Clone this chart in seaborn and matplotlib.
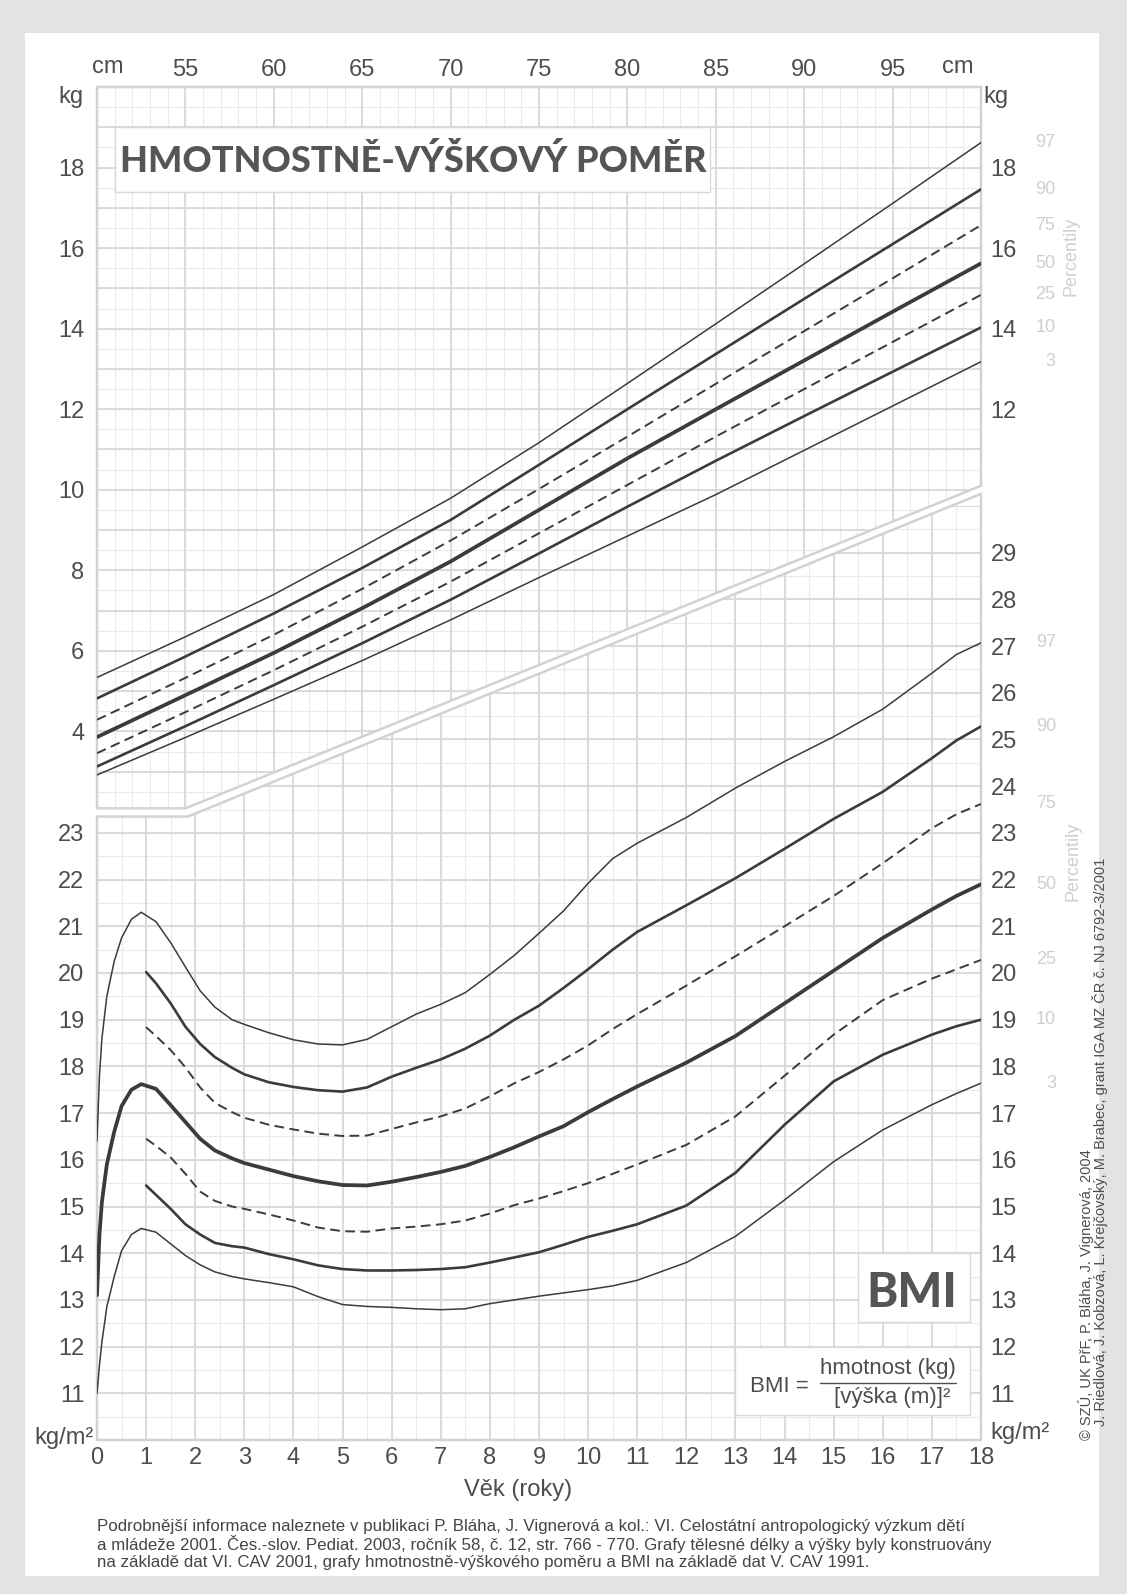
import numpy as np
import pandas as pd
import matplotlib
matplotlib.use("Agg")
import matplotlib.pyplot as plt
import matplotlib.transforms as mtransforms
from matplotlib.patches import Polygon, Rectangle
import seaborn as sns

sns.set_style("white")
plt.rcParams['font.family'] = ['Liberation Sans', 'DejaVu Sans']

# --- hmotnostne-vyskovy pomer (delka cm -> kg) ---
vyska_cm = [50, 55, 60, 65, 70, 75, 80, 85, 90, 95, 100]
hm_p97 = [5.34, 6.35, 7.40, 8.58, 9.79, 11.17, 12.64, 14.12, 15.61, 17.11, 18.62]
hm_p90 = [4.82, 5.86, 6.93, 8.06, 9.25, 10.62, 12.00, 13.37, 14.74, 16.10, 17.46]
hm_p75 = [4.29, 5.33, 6.40, 7.54, 8.74, 10.02, 11.32, 12.63, 13.94, 15.25, 16.57]
hm_p50 = [3.86, 4.90, 5.95, 7.06, 8.22, 9.50, 10.78, 12.00, 13.21, 14.42, 15.62]
hm_p25 = [3.46, 4.48, 5.52, 6.60, 7.72, 8.92, 10.12, 11.32, 12.50, 13.67, 14.84]
hm_p10 = [3.13, 4.13, 5.15, 6.19, 7.27, 8.42, 9.58, 10.72, 11.83, 12.93, 14.03]
hm_p3 = [2.92, 3.85, 4.80, 5.76, 6.77, 7.82, 8.85, 9.88, 10.98, 12.08, 13.18]

# --- BMI podle veku ---
vek_a = [0, 0.05, 0.1, 0.2, 0.35, 0.5, 0.7, 0.9, 1.2, 1.5, 1.8, 2.1, 2.4, 2.75, 3, 3.5,
         4, 4.5, 5, 5.5, 6, 6.5, 7, 7.5, 8, 8.5, 9, 9.5, 10, 10.5, 11, 12, 13, 14, 15,
         16, 17, 17.5, 18]
bmi_p97 = [16.4, 17.8, 18.6, 19.5, 20.25, 20.75, 21.15, 21.3, 21.1, 20.65, 20.13, 19.62,
           19.27, 19.0, 18.9, 18.72, 18.57, 18.48, 18.46, 18.58, 18.85, 19.12, 19.33, 19.58,
           19.97, 20.38, 20.85, 21.33, 21.92, 22.45, 22.78, 23.33, 23.96, 24.53, 25.06, 25.65,
           26.42, 26.82, 27.07]
bmi_p50 = [13.1, 14.4, 15.1, 15.9, 16.6, 17.15, 17.5, 17.62, 17.52, 17.17, 16.81, 16.45,
           16.2, 16.03, 15.93, 15.79, 15.65, 15.54, 15.46, 15.45, 15.53, 15.63, 15.74, 15.87,
           16.06, 16.27, 16.5, 16.72, 17.02, 17.3, 17.57, 18.08, 18.65, 19.35, 20.05, 20.75,
           21.36, 21.65, 21.9]
bmi_p3 = [11.0, 11.6, 12.1, 12.85, 13.5, 14.05, 14.4, 14.53, 14.45, 14.2, 13.95, 13.75,
          13.6, 13.5, 13.45, 13.37, 13.28, 13.07, 12.9, 12.86, 12.84, 12.81, 12.79, 12.81,
          12.92, 13.0, 13.08, 13.15, 13.22, 13.3, 13.42, 13.8, 14.36, 15.14, 15.96, 16.64,
          17.18, 17.42, 17.64]

vek_b = [1.0, 1.2, 1.5, 1.8, 2.1, 2.4, 2.75, 3, 3.5, 4, 4.5, 5, 5.5, 6, 6.5, 7, 7.5, 8,
         8.5, 9, 9.5, 10, 10.5, 11, 12, 13, 14, 15, 16, 17, 17.5, 18]
bmi_p90 = [20.02, 19.78, 19.35, 18.85, 18.48, 18.2, 17.97, 17.83, 17.66, 17.56, 17.49, 17.46,
           17.55, 17.78, 17.97, 18.15, 18.38, 18.66, 19.0, 19.3, 19.68, 20.08, 20.5, 20.88,
           21.45, 22.03, 22.66, 23.3, 23.88, 24.6, 24.98, 25.28]
bmi_p75 = [18.84, 18.65, 18.35, 17.98, 17.55, 17.22, 17.02, 16.9, 16.75, 16.65, 16.56, 16.51,
           16.52, 16.66, 16.8, 16.93, 17.1, 17.36, 17.64, 17.88, 18.15, 18.45, 18.8, 19.12,
           19.73, 20.36, 21.0, 21.65, 22.35, 23.1, 23.4, 23.62]
bmi_p25 = [16.45, 16.3, 16.05, 15.7, 15.32, 15.12, 15.0, 14.95, 14.83, 14.7, 14.55, 14.47,
           14.46, 14.53, 14.57, 14.62, 14.7, 14.85, 15.03, 15.17, 15.33, 15.5, 15.7, 15.9,
           16.32, 16.93, 17.8, 18.68, 19.42, 19.88, 20.08, 20.28]
bmi_p10 = [15.45, 15.25, 14.95, 14.62, 14.4, 14.22, 14.15, 14.12, 13.98, 13.87, 13.74, 13.66,
           13.63, 13.63, 13.64, 13.66, 13.7, 13.8, 13.91, 14.02, 14.18, 14.35, 14.48, 14.62,
           15.02, 15.72, 16.75, 17.68, 18.25, 18.68, 18.86, 19.0]

percentily = ['97', '90', '75', '50', '25', '10', '3']

cm_ticks = [55, 60, 65, 70, 75, 80, 85, 90, 95]
kg_left = [4, 6, 8, 10, 12, 14, 16, 18]
kg_right = [12, 14, 16, 18]
bmi_left = list(range(11, 24))
bmi_right = list(range(11, 30))
vek_ticks = list(range(0, 19))

# --- styl ---
W, H = 1127, 1594
L, R = 97, 981
INK = '#3b3b3b'
TXT = '#4d4d4d'
MAJ = '#d9d9d9'
MIN = '#eaeaea'
EDGE = '#d2d2d2'
PCT = '#cfcfcf'
FS = 17
HEAVY = ['Lato', 'Roboto', 'DejaVu Sans']

styly = {
    '97': dict(lw=1.1, ls='-'),
    '90': dict(lw=1.9, ls='-'),
    '75': dict(lw=1.4, ls=(0, (5, 2.8))),
    '50': dict(lw=2.7, ls='-'),
    '25': dict(lw=1.4, ls=(0, (5, 2.8))),
    '10': dict(lw=1.9, ls='-'),
    '3': dict(lw=1.1, ls='-'),
}

fig = plt.figure(figsize=(W / 100, H / 100), dpi=100, facecolor='#e3e3e3')
fig.add_artist(Rectangle((25 / W, 1 - 1576 / H), (1099 - 25) / W, (1576 - 33) / H,
                         transform=fig.transFigure, facecolor='white', edgecolor='none',
                         zorder=-5))

ax_top = fig.add_axes([L / W, 1 - 812 / H, (R - L) / W, (812 - 87) / H])
ax_bmi = fig.add_axes([L / W, 1 - 1440 / H, (R - L) / W, (1440 - 506) / H])
for ax in (ax_top, ax_bmi):
    ax.set_facecolor('none')
    for s in ax.spines.values():
        s.set_visible(False)

ax_top.set_xlim(50, 100)
ax_top.set_ylim(2, 20)
ax_bmi.set_xlim(0, 18)
ax_bmi.set_ylim(10, 30)

# hranice obou grafu (schodek + diagonala)
top_outline = [(50, 20), (100, 20), (100, 10.1), (55, 2.09), (50, 2.09)]
bmi_outline = [(0, 10), (18, 10), (18, 30.26), (1.85, 23.35), (0, 23.35)]


def mrizka(ax, xmin, xmaj, ymin, ymaj, outline):
    clip = Polygon(outline, closed=True, transform=ax.transData)
    x0, x1 = ax.get_xlim()
    y0, y1 = ax.get_ylim()
    art = [
        ax.vlines(xmin, y0, y1, colors=MIN, lw=0.8, zorder=1),
        ax.hlines(ymin, x0, x1, colors=MIN, lw=0.8, zorder=1),
        ax.vlines(xmaj, y0, y1, colors=MAJ, lw=1.3, zorder=1.1),
        ax.hlines(ymaj, x0, x1, colors=MAJ, lw=1.3, zorder=1.1),
    ]
    for a in art:
        a.set_clip_path(clip)
    ax.add_patch(Polygon(outline, closed=True, fill=False, edgecolor=EDGE, lw=1.8,
                         zorder=1.2, clip_on=False))


mrizka(ax_top, np.arange(50, 100.1, 1), np.arange(50, 100.1, 5),
       np.arange(2, 20.01, 0.5), np.arange(2, 20.01, 1), top_outline)
mrizka(ax_bmi, np.arange(0, 18.01, 0.5), np.arange(0, 18.01, 1),
       np.arange(10, 30.3, 0.5), np.arange(10, 30.3, 1), bmi_outline)

# krivky hmotnost / delka
hm_data = dict(zip(percentily, [hm_p97, hm_p90, hm_p75, hm_p50, hm_p25, hm_p10, hm_p3]))
for p, vals in hm_data.items():
    df = pd.DataFrame({'cm': vyska_cm, 'kg': vals})
    sns.lineplot(data=df, x='cm', y='kg', ax=ax_top, color=INK, lw=styly[p]['lw'],
                 linestyle=styly[p]['ls'], sort=False, zorder=3)
    ax_top.text(104.2, vals[-1], p, ha='right', va='center', fontsize=13, color=PCT,
                clip_on=False)

# krivky BMI
bmi_data = {'97': (vek_a, bmi_p97), '90': (vek_b, bmi_p90), '75': (vek_b, bmi_p75),
            '50': (vek_a, bmi_p50), '25': (vek_b, bmi_p25), '10': (vek_b, bmi_p10),
            '3': (vek_a, bmi_p3)}
for p, (ages, vals) in bmi_data.items():
    df = pd.DataFrame({'vek': ages, 'bmi': vals})
    sns.lineplot(data=df, x='vek', y='bmi', ax=ax_bmi, color=INK, lw=styly[p]['lw'],
                 linestyle=styly[p]['ls'], sort=False, zorder=3)
    ax_bmi.text(19.53, vals[-1], p, ha='right', va='center', fontsize=13, color=PCT,
                clip_on=False)

ax_top.text(105.1, 15.8, 'Percentily', rotation=90, ha='center', va='center',
            fontsize=13, color=PCT, clip_on=False)
ax_bmi.text(19.88, 22.4, 'Percentily', rotation=90, ha='center', va='center',
            fontsize=13, color=PCT, clip_on=False)

# osy a popisky
for ax in (ax_top, ax_bmi):
    ax.set_xlabel('')
    ax.set_ylabel('')

ax_top.xaxis.tick_top()
ax_top.set_xticks(cm_ticks)
ax_top.set_xticklabels([str(v) for v in cm_ticks])
ax_top.set_yticks(kg_left)
ax_top.set_yticklabels([str(v) for v in kg_left])
ax_top.tick_params(axis='both', length=0, labelsize=FS, labelcolor=TXT)
ax_top.tick_params(axis='x', pad=4)
ax_top.tick_params(axis='y', pad=9)
sec_top = ax_top.secondary_yaxis('right')
sec_top.set_yticks(kg_right)
sec_top.set_yticklabels([str(v) for v in kg_right])
sec_top.tick_params(length=0, labelsize=FS, labelcolor=TXT, pad=7)
sec_top.spines['right'].set_visible(False)

ax_bmi.set_xticks(vek_ticks)
ax_bmi.set_xticklabels([str(v) for v in vek_ticks])
ax_bmi.set_yticks(bmi_left)
ax_bmi.set_yticklabels([str(v) for v in bmi_left])
ax_bmi.tick_params(axis='both', length=0, labelsize=FS, labelcolor=TXT)
ax_bmi.tick_params(axis='x', pad=5)
ax_bmi.tick_params(axis='y', pad=9)
sec_bmi = ax_bmi.secondary_yaxis('right')
sec_bmi.set_yticks(bmi_right)
sec_bmi.set_yticklabels([str(v) for v in bmi_right])
sec_bmi.tick_params(length=0, labelsize=FS, labelcolor=TXT, pad=7)
sec_bmi.spines['right'].set_visible(False)

# jednotky
tr_top_x = mtransforms.blended_transform_factory(ax_top.transData, ax_top.transAxes)
tr_top_y = mtransforms.blended_transform_factory(ax_top.transAxes, ax_top.transData)
tr_bmi_x = mtransforms.blended_transform_factory(ax_bmi.transData, ax_bmi.transAxes)
tr_bmi_y = mtransforms.blended_transform_factory(ax_bmi.transAxes, ax_bmi.transData)
ax_top.text(50.6, 1.012, 'cm', transform=tr_top_x, ha='center', va='bottom', fontsize=FS,
            color=TXT)
ax_top.text(98.7, 1.012, 'cm', transform=tr_top_x, ha='center', va='bottom', fontsize=FS,
            color=TXT)
ax_top.text(-0.015, 19.75, 'kg', transform=tr_top_y, ha='right', va='center', fontsize=FS,
            color=TXT)
ax_top.text(1.003, 19.75, 'kg', transform=tr_top_y, ha='left', va='center', fontsize=FS,
            color=TXT)
ax_bmi.text(-0.004, 10.05, 'kg/m²', transform=tr_bmi_y, ha='right', va='center',
            fontsize=FS, color=TXT)
ax_bmi.text(1.011, 10.15, 'kg/m²', transform=tr_bmi_y, ha='left', va='center',
            fontsize=FS, color=TXT)
ax_bmi.text(8.57, -0.053, 'Věk (roky)', transform=tr_bmi_x, ha='center', va='center',
            fontsize=FS, color=TXT)

# nadpisove boxy
ax_top.add_patch(Rectangle((51, 17.4), 84.7 - 51, 19 - 17.4, facecolor='white',
                           edgecolor=MAJ, lw=1.0, zorder=2))
ax_top.text(67.9, 18.17, 'HMOTNOSTNĚ-VÝŠKOVÝ POMĚR', ha='center', va='center',
            fontsize=26, fontweight='black', family=HEAVY, color='#555555', zorder=4)

ax_bmi.add_patch(Rectangle((15.5, 12.52), 17.78 - 15.5, 14.0 - 12.52, facecolor='white',
                           edgecolor=MAJ, lw=1.0, zorder=2))
ax_bmi.text(16.6, 13.15, 'BMI', ha='center', va='center', fontsize=34, fontweight='black',
            family=HEAVY, color='#555555', zorder=4)

ax_bmi.add_patch(Rectangle((13.0, 10.53), 17.78 - 13.0, 12.0 - 10.53, facecolor='white',
                           edgecolor=MAJ, lw=1.0, zorder=2))
ax_bmi.text(13.9, 11.14, 'BMI =', ha='center', va='center', fontsize=16, color=TXT, zorder=4)
ax_bmi.text(16.1, 11.54, 'hmotnost (kg)', ha='center', va='center', fontsize=16, color=TXT,
            zorder=4)
ax_bmi.plot([14.72, 17.5], [11.22, 11.22], color=TXT, lw=1.0, zorder=4)
ax_bmi.text(16.2, 10.92, '[výška (m)]²', ha='center', va='center', fontsize=16, color=TXT,
            zorder=4)

# copyright (svisle)
fig.text(1086 / W, 1 - 1440 / H, '© SZÚ, UK PřF, P. Bláha, J. Vignerová, 2004',
         rotation=90, rotation_mode='anchor', ha='left', va='center', fontsize=10.5,
         color=TXT)
fig.text(1100 / W, 1 - 1426 / H,
         'J. Riedlová, J. Kobzová, L. Krejčovský, M. Brabec, grant IGA MZ ČR č. NJ 6792-3/2001',
         rotation=90, rotation_mode='anchor', ha='left', va='center', fontsize=10.5,
         color=TXT)

# poznamka pod grafem
radky = [
    'Podrobnější informace naleznete v publikaci P. Bláha, J. Vignerová a kol.: VI. Celostátní antropologický výzkum dětí',
    'a mládeže 2001. Čes.-slov. Pediat. 2003, ročník 58, č. 12, str. 766 - 770. Grafy tělesné délky a výšky byly konstruovány',
    'na základě dat VI. CAV 2001, grafy hmotnostně-výškového poměru a BMI na základě dat V. CAV 1991.',
]
for i, r in enumerate(radky):
    fig.text(97 / W, 1 - (1526 + 18.2 * i) / H, r, ha='left', va='center', fontsize=12.2,
             color='#454545')

fig.savefig('out.png', dpi=100, facecolor=fig.get_facecolor())
